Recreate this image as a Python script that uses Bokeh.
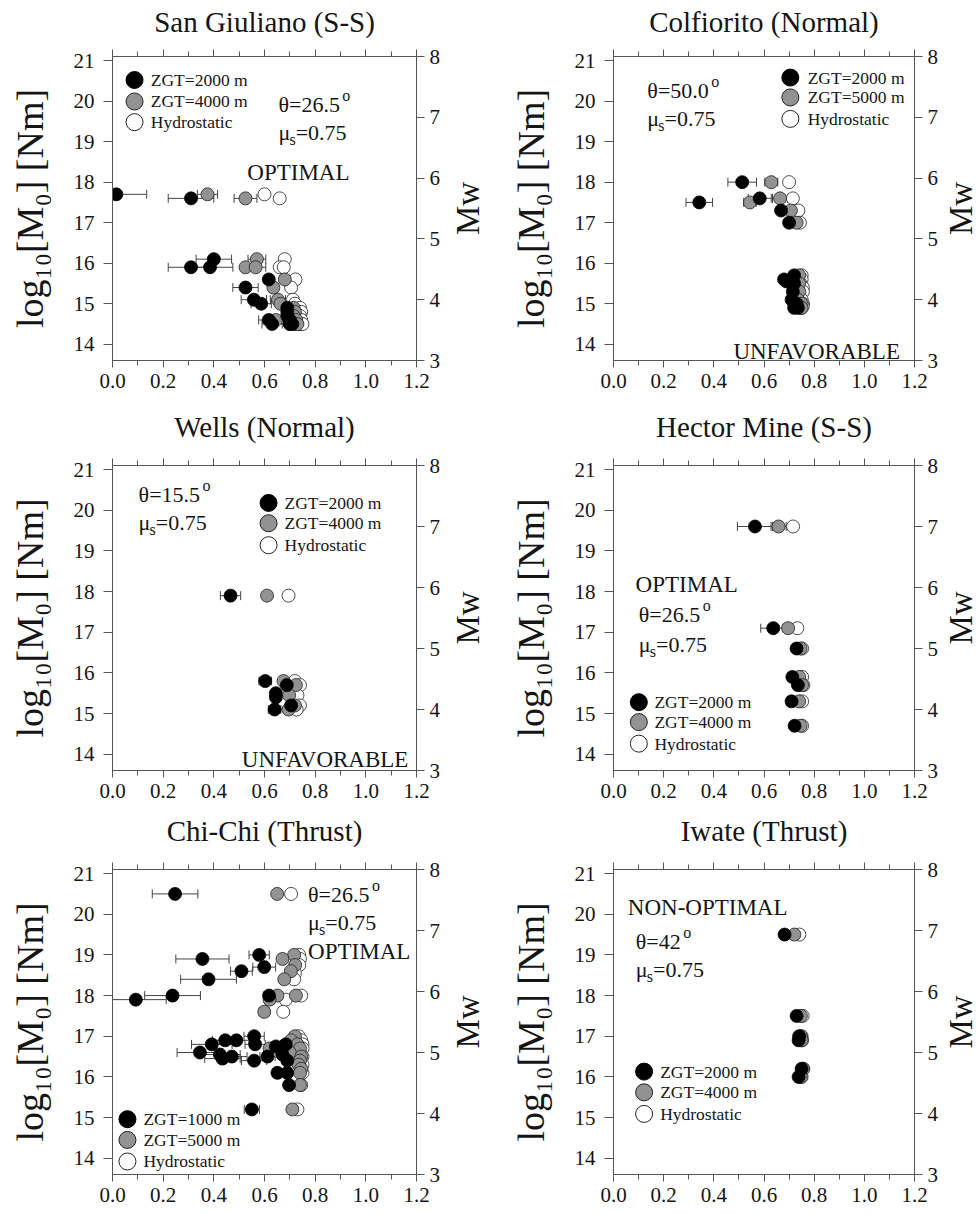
import math
from bokeh.plotting import figure
from bokeh.models import (Range1d, LinearAxis, FixedTicker, Label, Whisker, TeeHead,
                          ColumnDataSource, PrintfTickFormatter)
from bokeh.layouts import gridplot
from bokeh.embed import file_html
from bokeh.resources import INLINE

# ---------------- data ----------------
# San Giuliano (S-S)
sg_b_x = [0.015, 0.31, 0.40, 0.31, 0.385, 0.617, 0.525, 0.558, 0.587, 0.617, 0.63, 0.69, 0.69, 0.69, 0.70, 0.70, 0.71]
sg_b_y = [17.7, 17.6, 16.1, 15.9, 15.9, 15.6, 15.4, 15.1, 15.0, 14.6, 14.5, 14.9, 14.8, 14.7, 14.6, 14.5, 14.5]
sg_b_e = [0.12, 0.09, 0.07, 0.09, 0.09, 0.0, 0.05, 0.05, 0.04, 0.04, 0.04, 0, 0, 0, 0, 0, 0]
sg_g_x = [0.375, 0.525, 0.57, 0.525, 0.565, 0.68, 0.635, 0.653, 0.663, 0.69, 0.70, 0.715, 0.72, 0.715, 0.725, 0.72, 0.73, 0.645]
sg_g_y = [17.7, 17.6, 16.1, 15.9, 15.9, 15.6, 15.4, 15.1, 15.0, 14.6, 14.5, 14.9, 14.8, 14.7, 14.6, 14.5, 14.5, 14.6]
sg_g_e = [0.04, 0.045, 0.035, 0.0, 0.04, 0, 0, 0.03, 0, 0, 0, 0, 0, 0, 0, 0, 0, 0]
sg_h_x = [0.60, 0.66, 0.68, 0.66, 0.676, 0.722, 0.705, 0.712, 0.72, 0.73, 0.74, 0.74, 0.745, 0.74, 0.745, 0.745, 0.75]
sg_h_y = [17.7, 17.6, 16.1, 15.9, 15.9, 15.6, 15.4, 15.1, 15.0, 14.6, 14.5, 14.9, 14.8, 14.7, 14.6, 14.5, 14.5]

# Colfiorito (Normal)
cf_b_x = [0.342, 0.513, 0.583, 0.668, 0.70, 0.72, 0.68, 0.69, 0.72, 0.715, 0.71, 0.73, 0.72, 0.735]
cf_b_y = [17.5, 18.0, 17.6, 17.3, 17.0, 15.7, 15.6, 15.55, 15.5, 15.3, 15.1, 15.0, 14.9, 14.9]
cf_b_e = [0.053, 0.057, 0.046, 0, 0, 0, 0.015, 0, 0, 0, 0, 0, 0, 0]
cf_g_x = [0.544, 0.629, 0.664, 0.707, 0.73, 0.74, 0.72, 0.725, 0.74, 0.74, 0.735, 0.75, 0.745, 0.75]
cf_g_y = [17.5, 18.0, 17.6, 17.3, 17.0, 15.7, 15.6, 15.55, 15.5, 15.3, 15.1, 15.0, 14.9, 14.9]
cf_g_e = [0.025, 0.026, 0.03, 0, 0, 0, 0, 0, 0, 0, 0, 0, 0, 0]
cf_h_x = [0.70, 0.715, 0.737, 0.743, 0.75, 0.75, 0.745, 0.755, 0.755, 0.75, 0.755, 0.75, 0.755]
cf_h_y = [18.0, 17.6, 17.3, 17.0, 15.7, 15.6, 15.5, 15.4, 15.3, 15.1, 15.0, 14.9, 14.95]

# Wells (Normal)
we_b_x = [0.466, 0.603, 0.688, 0.645, 0.645, 0.705, 0.64]
we_b_y = [17.9, 15.8, 15.7, 15.5, 15.4, 15.2, 15.1]
we_b_e = [0.04, 0.025, 0, 0, 0, 0, 0.025]
we_g_x = [0.61, 0.675, 0.724, 0.697, 0.72, 0.695]
we_g_y = [17.9, 15.8, 15.7, 15.45, 15.2, 15.1]
we_g_e = [0.015, 0, 0, 0, 0, 0]
we_h_x = [0.695, 0.72, 0.74, 0.73, 0.74, 0.727]
we_h_y = [17.9, 15.8, 15.7, 15.45, 15.2, 15.1]

# Hector Mine (S-S)
hm_y = [19.6, 17.1, 16.6, 15.9, 15.7, 15.3, 14.7]
hm_b_x = [0.564, 0.637, 0.73, 0.713, 0.735, 0.71, 0.722]
hm_b_e = [0.07, 0.05, 0, 0, 0, 0.02, 0]
hm_g_x = [0.658, 0.696, 0.746, 0.74, 0.752, 0.74, 0.746]
hm_g_e = [0.03, 0.02, 0, 0, 0, 0, 0]
hm_h_x = [0.716, 0.733, 0.752, 0.752, 0.757, 0.752, 0.752]

# Chi-Chi (Thrust)
cc_b_x = [0.247, 0.579, 0.355, 0.599, 0.509, 0.379, 0.092, 0.237, 0.618, 0.559, 0.489, 0.445, 0.392, 0.563,
          0.345, 0.424, 0.471, 0.434, 0.559, 0.612, 0.645, 0.664, 0.684, 0.671, 0.69, 0.651, 0.69, 0.697, 0.55]
cc_b_y = [20.5, 19.0, 18.9, 18.7, 18.6, 18.4, 17.9, 18.0, 18.0, 17.0, 16.9, 16.9, 16.8, 16.8,
          16.6, 16.55, 16.5, 16.45, 16.4, 16.5, 16.75, 16.7, 16.8, 16.55, 16.4, 16.1, 16.1, 15.8, 15.2]
cc_b_e = [0.09, 0.04, 0.105, 0.045, 0.043, 0.11, 0.12, 0.11, 0.02, 0.04, 0.05, 0.05, 0.08, 0.04,
          0.09, 0.08, 0.06, 0.07, 0.05, 0.03, 0.03, 0.02, 0.02, 0.02, 0, 0, 0, 0, 0.03]
cc_g_x = [0.65, 0.717, 0.671, 0.721, 0.704, 0.678, 0.651, 0.62, 0.724, 0.599, 0.72, 0.705, 0.73, 0.74,
          0.62, 0.70, 0.745, 0.74, 0.735, 0.745, 0.74, 0.74, 0.71]
cc_g_y = [20.5, 19.0, 18.9, 18.75, 18.6, 18.4, 18.0, 17.9, 18.0, 17.6, 17.0, 16.9, 16.8, 16.7,
          16.7, 16.6, 16.5, 16.4, 16.3, 16.2, 16.1, 15.8, 15.2]
cc_g_e = [0.01, 0, 0, 0, 0, 0, 0.02, 0.02, 0, 0.02, 0, 0, 0, 0, 0, 0, 0, 0, 0, 0, 0, 0, 0]
cc_h_x = [0.705, 0.737, 0.74, 0.737, 0.72, 0.717, 0.684, 0.745, 0.674, 0.735, 0.745, 0.75, 0.75, 0.75,
          0.75, 0.75, 0.745, 0.73]
cc_h_y = [20.5, 19.0, 18.9, 18.75, 18.55, 18.4, 17.9, 18.0, 17.6, 17.0, 16.9, 16.8, 16.7, 16.5,
          16.3, 16.1, 15.8, 15.2]

# Iwate (Thrust)
iw_y = [19.5, 17.5, 17.0, 16.9, 16.2, 16.0]
iw_b_x = [0.682, 0.73, 0.74, 0.738, 0.75, 0.738]
iw_g_x = [0.721, 0.747, 0.747, 0.75, 0.757, 0.747]
iw_h_x = [0.741, 0.754, 0.75, 0.752, 0.755, 0.75]

x_ticks = [0.0, 0.2, 0.4, 0.6, 0.8, 1.0, 1.2]
x_minor = [0.1, 0.3, 0.5, 0.7, 0.9, 1.1]
m0_ticks = [14, 15, 16, 17, 18, 19, 20, 21]
mw_ticks = [3, 4, 5, 6, 7, 8]

# ---------------- style ----------------
FONT = "Liberation Serif"
AXC = "#555555"
TXT = "#151515"
GREY = "#929292"
EDGE = "#222222"

W = {' ': 250, '(': 333, ')': 333, '-': 333, '.': 250, '=': 564, '[': 333, ']': 333,
     'A': 722, 'B': 667, 'C': 667, 'E': 611, 'F': 556, 'G': 722, 'H': 722, 'I': 333, 'L': 611,
     'M': 889, 'N': 722, 'O': 722, 'P': 556, 'R': 667, 'S': 556, 'T': 611, 'U': 722, 'V': 722, 'Z': 611,
     'a': 444, 'c': 444, 'd': 500, 'e': 444, 'f': 333, 'g': 500, 'h': 500, 'i': 278, 'l': 278, 'm': 778,
     'n': 500, 'o': 500, 'r': 333, 's': 389, 't': 278, 'u': 500, 'w': 722, 'y': 500,
     'θ': 500, 'μ': 500}


def tw(s, fs):
    return sum(W.get(c, 500) for c in s) / 1000.0 * fs


def txt(p, x, y, text, fs, dx=0, dy=0, align="left", baseline="alphabetic"):
    p.add_layout(Label(x=x, y=y, x_offset=dx, y_offset=dy, text=text, text_font=FONT,
                       text_font_size=f"{fs}px", text_align=align, text_baseline=baseline,
                       text_color=TXT))


def theta(p, x, y, val, fs=22):
    s = "θ=" + val
    txt(p, x, y, s, fs)
    txt(p, x, y, "o", 16, dx=tw(s, fs) + 2, dy=9)


def mu(p, x, y, fs=22):
    txt(p, x, y, "μ", fs)
    txt(p, x, y, "s", 16, dx=tw("μ", fs), dy=-7)
    txt(p, x, y, "=0.75", fs, dx=tw("μ", fs) + tw("s", 16))


def errbars(p, xs, ys, es):
    sel = [(x, y, e) for x, y, e in zip(xs, ys, es) if e > 0]
    if not sel:
        return
    src = ColumnDataSource(dict(base=[s[1] for s in sel],
                                lower=[s[0] - s[2] for s in sel],
                                upper=[s[0] + s[2] for s in sel]))
    w = Whisker(source=src, base="base", lower="lower", upper="upper", dimension="width",
                line_color="#444444", line_width=1, level="underlay")
    w.upper_head = TeeHead(size=9, line_color="#444444", line_width=1)
    w.lower_head = TeeHead(size=9, line_color="#444444", line_width=1)
    p.add_layout(w)


def series(p, b, g, h):
    errbars(p, *b)
    errbars(p, *g)
    p.scatter(h[0], h[1], size=13, fill_color="white", line_color=EDGE, line_width=0.8)
    p.scatter(g[0], g[1], size=13, fill_color=GREY, line_color=EDGE, line_width=0.8)
    p.scatter(b[0], b[1], size=13, fill_color="black", line_color="black", line_width=0.8)


def legend(p, x, ys, labels, tx):
    p.scatter([x] * 3, ys, size=17, fill_color=["black", GREY, "white"],
              line_color=["black", EDGE, EDGE], line_width=1)
    for y, lab in zip(ys, labels):
        txt(p, tx, y, lab, 17.5, baseline="middle")


def style_axis(ax, major_out, minor_out=0, fs="21px", standoff=6):
    ax.axis_line_color = AXC
    ax.major_tick_line_color = AXC
    ax.minor_tick_line_color = AXC
    ax.major_tick_in = 0
    ax.major_tick_out = major_out
    ax.minor_tick_in = 0
    ax.minor_tick_out = minor_out
    ax.major_label_text_font = FONT
    ax.major_label_text_font_size = fs
    ax.major_label_text_color = TXT
    ax.major_label_standoff = standoff
    ax.axis_label_text_font = FONT
    ax.axis_label_text_font_style = "normal"
    ax.axis_label_text_color = TXT


def make_fig(title, height, left_col, top, bottom, title_gap):
    if left_col:
        width, bl, br = 446, 112, 30
    else:
        width, bl, br = 453, 125, 24
    p = figure(width=width, height=height, x_range=Range1d(0, 1.2), y_range=Range1d(13.6, 21.1),
               output_backend="svg", toolbar_location=None, title=None,
               min_border_left=bl, min_border_right=br, min_border_top=top, min_border_bottom=bottom,
               x_axis_location=None, y_axis_location=None)
    p.grid.grid_line_color = None
    p.outline_line_color = AXC
    p.background_fill_color = "white"
    p.border_fill_color = "white"
    p.extra_y_ranges = {"mw": Range1d(3.0, 8.0)}

    xt = FixedTicker(ticks=x_ticks, minor_ticks=x_minor)
    bot = LinearAxis(ticker=xt, formatter=PrintfTickFormatter(format="%.1f"))
    style_axis(bot, 7, 5, standoff=6)
    p.add_layout(bot, "below")

    # top axis: ticks only, carries the panel title as its label
    top_ax = LinearAxis(ticker=FixedTicker(ticks=x_ticks, minor_ticks=x_minor))
    style_axis(top_ax, 7, 5, fs="0px", standoff=0)
    top_ax.major_label_text_color = None
    top_ax.axis_label = title
    top_ax.axis_label_text_font_size = "29px"
    top_ax.axis_label_standoff = title_gap
    p.add_layout(top_ax, "above")

    left = LinearAxis(ticker=FixedTicker(ticks=m0_ticks))
    style_axis(left, 9, 0, standoff=9)
    left.axis_label = "log\u2081\u2080[M\u2080] [Nm]"
    left.axis_label_text_font_size = "38px"
    left.axis_label_standoff = 20
    p.add_layout(left, "left")

    right = LinearAxis(y_range_name="mw", ticker=FixedTicker(ticks=mw_ticks))
    style_axis(right, 8, 0, standoff=5)
    p.add_layout(right, "right")
    return p


def mw_strip(width, height, top, bottom, standoff):
    # narrow strip that only carries the rotated "Mw" label of the panel to its left
    s = figure(width=width, height=height, x_range=Range1d(0, 1), y_range=Range1d(0, 1),
               output_backend="svg", toolbar_location=None,
               min_border_left=width - 1, min_border_right=0, min_border_top=top, min_border_bottom=bottom,
               x_axis_location=None, y_axis_location=None)
    s.grid.grid_line_color = None
    s.outline_line_color = None
    s.background_fill_color = "white"
    s.border_fill_color = "white"
    ax = LinearAxis(ticker=FixedTicker(ticks=[]))
    style_axis(ax, 0, 0, fs="0px", standoff=0)
    ax.axis_line_color = None
    ax.major_tick_line_color = None
    ax.minor_tick_line_color = None
    ax.axis_label = "Mw"
    ax.axis_label_text_font_size = "33px"
    ax.axis_label_standoff = standoff
    s.add_layout(ax, "left")
    return s


LEG_A = ["ZGT=2000 m", "ZGT=4000 m", "Hydrostatic"]

# ---- Panel 1: San Giuliano ----
p1 = make_fig("San Giuliano (S-S)", 406, True, 56, 46, 12)
series(p1, (sg_b_x, sg_b_y, sg_b_e), (sg_g_x, sg_g_y, sg_g_e), (sg_h_x, sg_h_y))
legend(p1, 0.087, [20.52, 19.99, 19.48], LEG_A, 0.151)
theta(p1, 0.655, 19.91, "26.5")
mu(p1, 0.655, 19.22)
txt(p1, 0.532, 18.24, "OPTIMAL", 23)
s1 = mw_strip(42, 406, 56, 46, 2)

# ---- Panel 2: Colfiorito ----
p2 = make_fig("Colfiorito (Normal)", 406, False, 56, 46, 12)
series(p2, (cf_b_x, cf_b_y, cf_b_e), (cf_g_x, cf_g_y, cf_g_e), (cf_h_x, cf_h_y))
legend(p2, 0.705, [20.58, 20.09, 19.56], ["ZGT=2000 m", "ZGT=5000 m", "Hydrostatic"], 0.774)
theta(p2, 0.135, 20.27, "50.0")
mu(p2, 0.135, 19.56)
txt(p2, 1.142, 13.81, "UNFAVORABLE", 23, align="right")
s2 = mw_strip(37, 406, 56, 46, 0)

# ---- Panel 3: Wells ----
p3 = make_fig("Wells (Normal)", 404, True, 59, 40, 16)
series(p3, (we_b_x, we_b_y, we_b_e), (we_g_x, we_g_y, we_g_e), (we_h_x, we_h_y))
legend(p3, 0.616, [20.18, 19.68, 19.14], LEG_A, 0.679)
theta(p3, 0.103, 20.39, "15.5")
mu(p3, 0.103, 19.69)
txt(p3, 1.168, 13.86, "UNFAVORABLE", 23, align="right")
s3 = mw_strip(42, 404, 59, 40, 2)

# ---- Panel 4: Hector Mine ----
p4 = make_fig("Hector Mine (S-S)", 404, False, 59, 40, 16)
series(p4, (hm_b_x, hm_y, hm_b_e), (hm_g_x, hm_y, hm_g_e), (hm_h_x, hm_y))
legend(p4, 0.101, [15.28, 14.79, 14.26], LEG_A, 0.163)
txt(p4, 0.088, 18.18, "OPTIMAL", 23)
theta(p4, 0.101, 17.44, "26.5")
mu(p4, 0.101, 16.71)
s4 = mw_strip(37, 404, 59, 40, 0)

# ---- Panel 5: Chi-Chi ----
p5 = make_fig("Chi-Chi (Thrust)", 404, True, 59, 40, 16)
series(p5, (cc_b_x, cc_b_y, cc_b_e), (cc_g_x, cc_g_y, cc_g_e), (cc_h_x, cc_h_y))
legend(p5, 0.059, [14.96, 14.45, 13.92], ["ZGT=1000 m", "ZGT=5000 m", "Hydrostatic"], 0.122)
theta(p5, 0.772, 20.48, "26.5")
mu(p5, 0.772, 19.79)
txt(p5, 0.772, 19.09, "OPTIMAL", 23)
s5 = mw_strip(42, 404, 59, 40, 2)

# ---- Panel 6: Iwate ----
p6 = make_fig("Iwate (Thrust)", 404, False, 59, 40, 16)
series(p6, (iw_b_x, iw_y, [0] * len(iw_y)), (iw_g_x, iw_y, [0] * len(iw_y)), (iw_h_x, iw_y))
legend(p6, 0.122, [16.13, 15.62, 15.09], LEG_A, 0.186)
txt(p6, 0.057, 20.16, "NON-OPTIMAL", 23)
theta(p6, 0.089, 19.34, "42")
mu(p6, 0.089, 18.65)
s6 = mw_strip(37, 404, 59, 40, 0)

grid = gridplot([[p1, s1, p2, s2], [p3, s3, p4, s4], [p5, s5, p6, s6]], toolbar_location=None)

with open("out.html", "w") as fh:
    fh.write(file_html(grid, INLINE))
